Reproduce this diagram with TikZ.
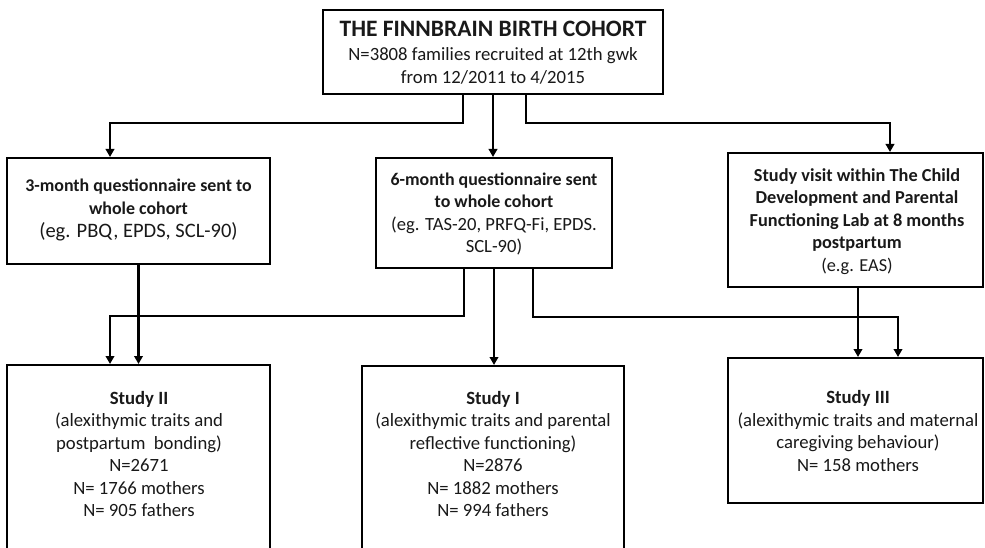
\documentclass[tikz,border=0pt]{standalone}
\usepackage{fontspec}
\setmainfont{Carlito}
\usetikzlibrary{arrows.meta,calc}
\tikzset{
  box/.style={draw=black, line width=2.6pt, inner sep=0pt, outer sep=0pt, fill=white},
  txt/.style={align=center, inner sep=0pt, text=black!90},
  conn/.style={draw=black, line width=2.3pt},
  arr/.style={conn, -{Triangle[length=8pt,width=8.5pt]}, shorten >=1pt},
}
\begin{document}
\begin{tikzpicture}[x=1pt,y=-1pt]
\useasboundingbox (0,0) rectangle (985,548);
\clip (0,0) rectangle (985,548);
% boxes
\node[box, minimum width=340pt, minimum height=84pt] (top) at (493,52) {};
\node[txt, font=\fontsize{18.7}{23}\selectfont] (topt) at (493,53) {{\fontsize{23.5}{25}\selectfont\bfseries THE FINNBRAIN BIRTH COHORT}\\[1pt]N=3808 families recruited at 12th gwk\\from 12/2011 to 4/2015};

\node[box, minimum width=263pt, minimum height=106pt] (qa) at (138.5,211) {};
\node[txt, font=\fontsize{17.9}{22.6}\selectfont] (qat) at (138.5,210) {\textbf{3-month questionnaire sent to}\\\textbf{whole cohort}\\{\fontsize{20.5}{22.6}\selectfont (eg. PBQ, EPDS, SCL-90)}};

\node[box, minimum width=236pt, minimum height=110pt] (qb) at (494,213) {};
\node[txt, font=\fontsize{18.6}{22.6}\selectfont] (qbt) at (494,214) {{\fontsize{17.9}{22.6}\selectfont\bfseries 6-month questionnaire sent}\\{\fontsize{17.9}{22.6}\selectfont\bfseries to whole cohort}\\(eg. TAS-20, PRFQ-Fi, EPDS.\\SCL-90)};

\node[box, minimum width=255pt, minimum height=134pt] (qc) at (855.5,220) {};
\node[txt, font=\fontsize{18.3}{22.6}\selectfont] (qct) at (857,221.5) {\textbf{Study visit within The Child}\\\textbf{Development and Parental}\\\textbf{Functioning Lab at 8 months}\\\textbf{postpartum}\\(e.g. EAS)};

\node[box, minimum width=263pt, minimum height=250pt] (s2) at (138.5,490) {};
\node[txt, font=\fontsize{18.7}{22.4}\selectfont] (s2t) at (139,454) {\textbf{Study II}\\(alexithymic traits and\\postpartum\ \ bonding)\\N=2671\\N= 1766 mothers\\N= 905 fathers};

\node[box, minimum width=262pt, minimum height=250pt] (s1) at (493,491) {};
\node[txt, font=\fontsize{18.7}{22.4}\selectfont] (s1t) at (493,454) {\textbf{Study I}\\(alexithymic traits and parental\\reflective functioning)\\N=2876\\N= 1882 mothers\\N= 994 fathers};

\node[box, minimum width=255pt, minimum height=145pt] (s3) at (855.5,430.5) {};
\node[txt, font=\fontsize{18.7}{22.6}\selectfont] (s3t) at (858,431) {\textbf{Study III}\\(alexithymic traits and maternal\\caregiving behaviour)\\N= 158 mothers};

% connectors from top
\draw[arr] ([xshift=-30pt]top.south) -- ++(0,29) -| ([xshift=-28.5pt]qa.north);
\draw[arr] (top.south) -- (top.south |- qb.north);
\draw[arr] ([xshift=33pt]top.south) -- ++(0,29) -| ([xshift=34.5pt]qc.north);
% connectors to studies
\draw[arr] (qa.south) -- (qa.south |- s2.north);
\draw[arr] ([xshift=-30pt]qb.south) -- ++(0,48) -| ([xshift=-28.5pt]s2.north);
\draw[arr] (qb.south) -- (qb.south |- s1.north);
\draw[arr] ([xshift=39pt]qb.south) -- ++(0,49) -| ([xshift=42.5pt]s3.north);
\draw[arr] ([xshift=2.5pt]qc.south) -- ([xshift=2.5pt]qc.south |- s3.north);
\end{tikzpicture}
\end{document}
